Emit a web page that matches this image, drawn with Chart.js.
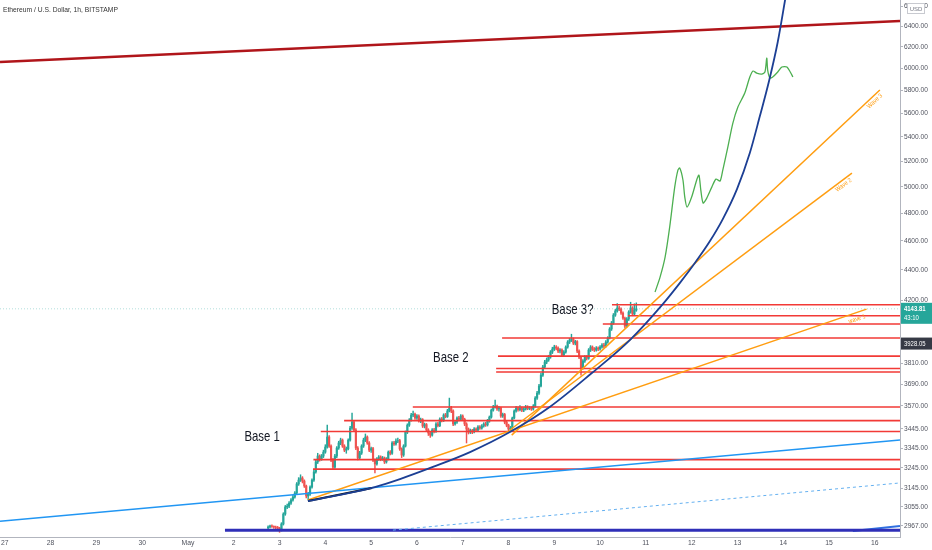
<!DOCTYPE html>
<html>
<head>
<meta charset="utf-8">
<script src="https://cdn.jsdelivr.net/npm/chart.js@4.4.0/dist/chart.umd.min.js"></script>
<style>
  html, body { margin: 0; padding: 0; background: #fff; }
  canvas { display: block; }
</style>
</head>
<body>
<canvas id="ethChart" width="932" height="550"></canvas>
<script>
// x values are days counted from Apr 27 00:00
const dayLabels = ["27", "28", "29", "30", "May", "2", "3", "4", "5", "6", "7", "8", "9", "10", "11", "12", "13", "14", "15", "16"];
const priceTicks = [6600, 6400, 6200, 6000, 5800, 5600, 5400, 5200, 5000, 4800, 4600, 4400, 4200, 3810, 3690, 3570, 3445, 3345, 3245, 3145, 3055, 2967];

// 1h candles, first one May 2 18:00
const candleStartDay = 5.75;
const firstOpen = 2958;
const closes = [
  2962, 2967, 2965, 2962, 2961, 2957, 2948, 2976, 3022, 3055,
  3059, 3073, 3088, 3102, 3121, 3165, 3184, 3194, 3179, 3155,
  3107, 3116, 3150, 3184, 3224, 3274, 3304, 3289, 3304, 3324,
  3350, 3402, 3355, 3284, 3248, 3304, 3345, 3371, 3386, 3355,
  3334, 3341, 3386, 3449, 3481, 3439, 3345, 3294, 3319, 3355,
  3386, 3402, 3371, 3334, 3342, 3284, 3264, 3289, 3299, 3289,
  3294, 3274, 3289, 3324, 3318, 3371, 3366, 3381, 3383, 3340,
  3309, 3355, 3428, 3465, 3492, 3519, 3524, 3503, 3514, 3487,
  3494, 3460, 3468, 3439, 3423, 3412, 3439, 3431, 3471, 3462,
  3497, 3490, 3519, 3511, 3541, 3557, 3541, 3471, 3481, 3503,
  3496, 3514, 3497, 3471, 3444, 3428, 3436, 3429, 3444, 3438,
  3455, 3449, 3460, 3471, 3466, 3487, 3508, 3546, 3563, 3568,
  3552, 3558, 3514, 3522, 3481, 3465, 3444, 3449, 3503, 3541,
  3557, 3548, 3557, 3546, 3552, 3563, 3555, 3557, 3552, 3568,
  3612, 3640, 3680, 3742, 3789, 3818, 3830, 3847, 3877, 3895,
  3907, 3901, 3883, 3890, 3859, 3877, 3907, 3937, 3949, 3955,
  3931, 3940, 3883, 3847, 3783, 3824, 3847, 3840, 3889, 3907,
  3895, 3889, 3901, 3895, 3907, 3919, 3912, 3937, 3962, 4017,
  4054, 4104, 4130, 4149, 4142, 4117, 4085, 4035, 4079, 4123,
  4149, 4111, 4136, 4143.81
];
const highs = [
  2967, 2971, 2972, 2968, 2966, 2965, 2961, 2982, 3028, 3062,
  3069, 3080, 3095, 3110, 3128, 3172, 3196, 3210, 3201, 3185,
  3160, 3124, 3156, 3190, 3232, 3285, 3318, 3310, 3312, 3334,
  3362, 3465, 3410, 3362, 3292, 3312, 3352, 3380, 3396, 3392,
  3362, 3350, 3392, 3458, 3530, 3490, 3446, 3352, 3328, 3362,
  3396, 3418, 3408, 3378, 3350, 3348, 3290, 3296, 3306, 3305,
  3302, 3299, 3296, 3330, 3332, 3378, 3380, 3392, 3396, 3390,
  3346, 3362, 3434, 3472, 3500, 3528, 3540, 3530, 3522, 3520,
  3502, 3500, 3476, 3474, 3446, 3430, 3446, 3448, 3478, 3480,
  3504, 3506, 3526, 3528, 3550, 3612, 3566, 3548, 3490, 3510,
  3512, 3522, 3520, 3502, 3478, 3450, 3444, 3442, 3452, 3450,
  3462, 3462, 3468, 3478, 3480, 3496, 3514, 3552, 3572, 3601,
  3574, 3566, 3562, 3530, 3528, 3488, 3470, 3458, 3508, 3548,
  3566, 3564, 3570, 3562, 3560, 3572, 3570, 3566, 3564, 3576,
  3620, 3650, 3690, 3752, 3798, 3828, 3842, 3858, 3886, 3906,
  3918, 3916, 3908, 3898, 3896, 3886, 3914, 3946, 3960, 3985,
  3962, 3948, 3946, 3890, 3852, 3832, 3856, 3856, 3898, 3916,
  3914, 3904, 3910, 3908, 3916, 3928, 3930, 3946, 3970, 4026,
  4064, 4114, 4140, 4178, 4160, 4150, 4124, 4092, 4088, 4132,
  4186, 4158, 4176, 4182
];
const lows = [
  2953, 2958, 2960, 2956, 2955, 2951, 2938, 2944, 2971, 3016,
  3047, 3052, 3067, 3082, 3096, 3115, 3158, 3177, 3170, 3148,
  3098, 3090, 3110, 3144, 3178, 3218, 3266, 3278, 3282, 3296,
  3318, 3344, 3348, 3276, 3236, 3242, 3296, 3338, 3362, 3348,
  3326, 3318, 3335, 3380, 3442, 3430, 3336, 3284, 3288, 3312,
  3348, 3378, 3364, 3326, 3322, 3276, 3219, 3258, 3282, 3280,
  3282, 3266, 3268, 3284, 3310, 3312, 3358, 3360, 3372, 3332,
  3296, 3302, 3350, 3420, 3458, 3486, 3510, 3496, 3496, 3480,
  3478, 3452, 3450, 3430, 3410, 3400, 3406, 3424, 3426, 3455,
  3456, 3482, 3484, 3504, 3506, 3536, 3532, 3462, 3464, 3474,
  3488, 3490, 3490, 3462, 3371, 3418, 3420, 3420, 3424, 3430,
  3432, 3442, 3444, 3454, 3458, 3460, 3480, 3502, 3540, 3556,
  3544, 3540, 3506, 3506, 3472, 3456, 3428, 3436, 3444, 3498,
  3534, 3540, 3542, 3538, 3538, 3546, 3548, 3548, 3544, 3546,
  3562, 3604, 3632, 3674, 3734, 3780, 3808, 3822, 3840, 3868,
  3886, 3890, 3874, 3872, 3850, 3852, 3870, 3900, 3928, 3940,
  3922, 3920, 3874, 3838, 3742, 3776, 3816, 3830, 3834, 3880,
  3886, 3880, 3882, 3886, 3888, 3900, 3904, 3906, 3930, 3956,
  4008, 4046, 4096, 4122, 4132, 4108, 4076, 4024, 4028, 4070,
  4116, 4100, 4104, 4128
];

// drawn lines, [day, price]
const topResistance = [[-0.105, 6057], [19.55, 6451]];
const longSupport = [[-0.105, 2989], [19.55, 3386]];
const dashedSupport = [[8.476, 2948], [19.55, 3170]];
const floorLine = [[4.808, 2948], [19.55, 2948]];
const floorRise = [[18.52, 2944], [19.55, 2967]];
const blackTrend = [[6.62, 3083], [8.02, 3145]];
const wave1Line = [[6.62, 3088], [18.82, 4142]];
const wave2Line = [[11.03, 3439], [18.50, 5106]];
const wave3Line = [[11.07, 3412], [19.11, 5802]];
const parabola = [
  [6.62, 3083], [7.32, 3112], [8.08, 3150], [8.63, 3189], [9.35, 3249], [10.16, 3324],
  [11.03, 3428], [11.90, 3563], [12.82, 3754], [13.65, 3949], [14.37, 4174], [14.74, 4311],
  [15.07, 4446], [15.40, 4599], [15.68, 4757], [15.99, 4982], [16.27, 5266], [16.49, 5574],
  [16.69, 5883], [16.88, 6247], [17.04, 6664], [17.12, 6893]
];
const projection = [
  [14.20, 4252], [14.31, 4351], [14.42, 4487], [14.52, 4699], [14.63, 4997], [14.70, 5130],
  [14.74, 5146], [14.81, 5052], [14.85, 4921], [14.90, 4846], [15.00, 4921], [15.11, 5052],
  [15.16, 5090], [15.20, 4974], [15.25, 4876], [15.33, 4913], [15.44, 4997], [15.53, 5059],
  [15.62, 5044], [15.68, 5130], [15.79, 5315], [15.90, 5514], [16.01, 5652], [16.16, 5775],
  [16.27, 5919], [16.34, 5974], [16.42, 5955], [16.53, 5946], [16.60, 5965], [16.64, 6094],
  [16.66, 5983], [16.71, 5910], [16.77, 5919], [16.88, 5965], [16.97, 6011], [17.08, 6011],
  [17.19, 5937], [17.21, 5919]
];

const levelPrices = [4170, 4100, 4048, 3962, 3853, 3780, 3760, 3563, 3489, 3431, 3286, 3238];
const levelFromDay = [13.26, 13.61, 13.06, 10.86, 10.77, 10.73, 10.73, 8.91, 7.41, 6.90, 6.74, 6.73];

const baseLabels = ["Base 1", "Base 2", "Base 3?"];
const baseLabelDays = [5.62, 9.74, 12.40];
const baseLabelPrices = [3402, 3842, 4136];

const waveLabels = ["wave 1", "Wave 2", "Wave 3"];
const waveLabelDays = [18.61, 18.32, 19.00];
const waveLabelPrices = [4079, 5013, 5704];

const lastPrice = 4143.81;
const countdown = "43:10";
const markedPrice = 3928.05;

const xMin = -0.105, xMax = 19.55;
const UP = "#26a69a", DOWN = "#ef5350", RED = "#f23a36", ORANGE = "#ff9d10";
const SANS = "'Liberation Sans Narrow', 'Liberation Sans', Arial, sans-serif";

const pts = arr => arr.map(([x, y]) => ({ x, y }));

function seg(points, color, width, extra) {
  return Object.assign({
    type: "line",
    data: pts(points),
    borderColor: color,
    borderWidth: width,
    pointRadius: 0,
    fill: false,
    tension: 0,
    order: 5
  }, extra || {});
}

// the installed sans is wider than TradingView's, so squeeze drawn text a little
function narrowText(ctx, text, x, y, squeeze) {
  ctx.save();
  ctx.translate(x, y);
  ctx.scale(squeeze, 1);
  ctx.fillText(text, 0, 0);
  ctx.restore();
}

const opens = closes.map((c, i) => (i ? closes[i - 1] : firstOpen));
const candleDays = closes.map((_, i) => candleStartDay + i / 24);
const candleColors = closes.map((c, i) => (c >= opens[i] ? UP : DOWN));

const datasets = [
  seg([[xMin, lastPrice], [xMax, lastPrice]], "rgba(38,166,154,0.35)", 1, { borderDash: [1, 2], order: 9 }),
  seg(topResistance, "#b0151a", 2.5),
  seg(longSupport, "#2196f3", 1.5),
  seg(dashedSupport, "#64b0f0", 1, { borderDash: [3, 3] }),
  seg(floorLine, "#2f2fb8", 3),
  seg(floorRise, "#2f6fe0", 2),
  ...levelPrices.map((p, i) => seg([[levelFromDay[i], p], [xMax, p]], RED, 1.6, { order: 6 })),
  seg(wave1Line, ORANGE, 1.5),
  seg(wave2Line, ORANGE, 1.5),
  seg(wave3Line, ORANGE, 1.5),
  seg(blackTrend, "#111", 2, { order: 3 }),
  seg(parabola, "#1c3f94", 1.8, { cubicInterpolationMode: "monotone", order: 2 }),
  seg(projection, "#4caf50", 1.3, { tension: 0.25, order: 2 }),
  {
    type: "bar",
    data: candleDays.map((d, i) => ({ x: d, y: [lows[i], highs[i]] })),
    backgroundColor: candleColors,
    barThickness: 0.8,
    grouped: false,
    order: 21
  },
  {
    type: "bar",
    data: candleDays.map((d, i) => ({ x: d, y: [opens[i], closes[i]] })),
    backgroundColor: candleColors,
    barThickness: 1.5,
    grouped: false,
    order: 20
  }
];

const overlay = {
  id: "overlay",
  afterDatasetsDraw(chart) {
    const { ctx, scales: { x, y } } = chart;
    ctx.save();
    ctx.font = "15px " + SANS;
    ctx.fillStyle = "#131722";
    ctx.textAlign = "center";
    ctx.textBaseline = "middle";
    baseLabels.forEach((t, i) => {
      narrowText(ctx, t, x.getPixelForValue(baseLabelDays[i]), y.getPixelForValue(baseLabelPrices[i]), 0.76);
    });

    ctx.font = "6.5px " + SANS;
    ctx.fillStyle = ORANGE;
    [wave1Line, wave2Line, wave3Line].forEach((line, i) => {
      const ang = Math.atan2(
        y.getPixelForValue(line[1][1]) - y.getPixelForValue(line[0][1]),
        x.getPixelForValue(line[1][0]) - x.getPixelForValue(line[0][0])
      );
      ctx.save();
      ctx.translate(x.getPixelForValue(waveLabelDays[i]), y.getPixelForValue(waveLabelPrices[i]));
      ctx.rotate(ang);
      ctx.scale(0.85, 1);
      ctx.fillText(waveLabels[i], 0, 0);
      ctx.restore();
    });
    ctx.restore();
  },
  afterDraw(chart) {
    const { ctx, chartArea, scales: { y } } = chart;
    const left = chartArea.right + 1;
    ctx.save();
    ctx.textAlign = "left";
    ctx.textBaseline = "middle";

    let py = y.getPixelForValue(lastPrice);
    ctx.fillStyle = UP;
    ctx.fillRect(left, py - 6, 31, 21);
    ctx.fillStyle = "#fff";
    ctx.font = "bold 7px " + SANS;
    narrowText(ctx, lastPrice.toFixed(2), left + 3, py, 0.85);
    ctx.font = "7px " + SANS;
    narrowText(ctx, countdown, left + 3, py + 9, 0.85);

    py = y.getPixelForValue(markedPrice);
    ctx.fillStyle = "#363a45";
    ctx.fillRect(left, py - 6, 31, 12);
    ctx.fillStyle = "#fff";
    narrowText(ctx, markedPrice.toFixed(2), left + 3, py, 0.85);

    ctx.fillStyle = "#fff";
    ctx.fillRect(907, 3, 18, 11);
    ctx.strokeStyle = "#c8cad0";
    ctx.lineWidth = 1;
    ctx.strokeRect(907.5, 3.5, 17, 10);
    ctx.fillStyle = "#787b86";
    ctx.font = "6px " + SANS;
    ctx.textAlign = "center";
    ctx.fillText("USD", 916, 9);

    ctx.textAlign = "left";
    ctx.fillStyle = "#333";
    ctx.font = "8px " + SANS;
    narrowText(ctx, "Ethereum / U.S. Dollar, 1h, BITSTAMP", 3, 10, 0.84);
    ctx.restore();
  }
};

new Chart(document.getElementById("ethChart").getContext("2d"), {
  type: "bar",
  data: { datasets: datasets },
  plugins: [overlay],
  options: {
    responsive: false,
    animation: false,
    layout: { padding: 0, autoPadding: false },
    plugins: { legend: { display: false }, tooltip: { enabled: false } },
    scales: {
      x: {
        type: "linear",
        min: xMin,
        max: xMax,
        offset: false,
        afterBuildTicks: s => { s.ticks = dayLabels.map((_, i) => ({ value: i })); },
        afterFit: s => { s.height = 13; s.paddingLeft = 0; s.paddingRight = 0; },
        ticks: {
          autoSkip: false,
          maxRotation: 0,
          padding: 2,
          color: "#50535e",
          font: { family: SANS, size: 6.8 },
          callback: v => dayLabels[v] || ""
        },
        grid: { drawOnChartArea: false, drawTicks: false, color: "#b2b5be" },
        border: { color: "#b2b5be" }
      },
      y: {
        type: "logarithmic",
        position: "right",
        min: 2917,
        max: 6664,
        afterBuildTicks: s => { s.ticks = priceTicks.map(v => ({ value: v })); },
        afterFit: s => { s.width = 32; s.paddingTop = 0; s.paddingBottom = 0; },
        ticks: {
          autoSkip: false,
          padding: 1,
          color: "#50535e",
          font: { family: SANS, size: 6.6 },
          callback: v => Number(v).toFixed(2)
        },
        grid: { drawOnChartArea: false, drawTicks: true, tickLength: 3, color: "#b2b5be" },
        border: { color: "#b2b5be" }
      }
    }
  }
});
</script>
</body>
</html>
